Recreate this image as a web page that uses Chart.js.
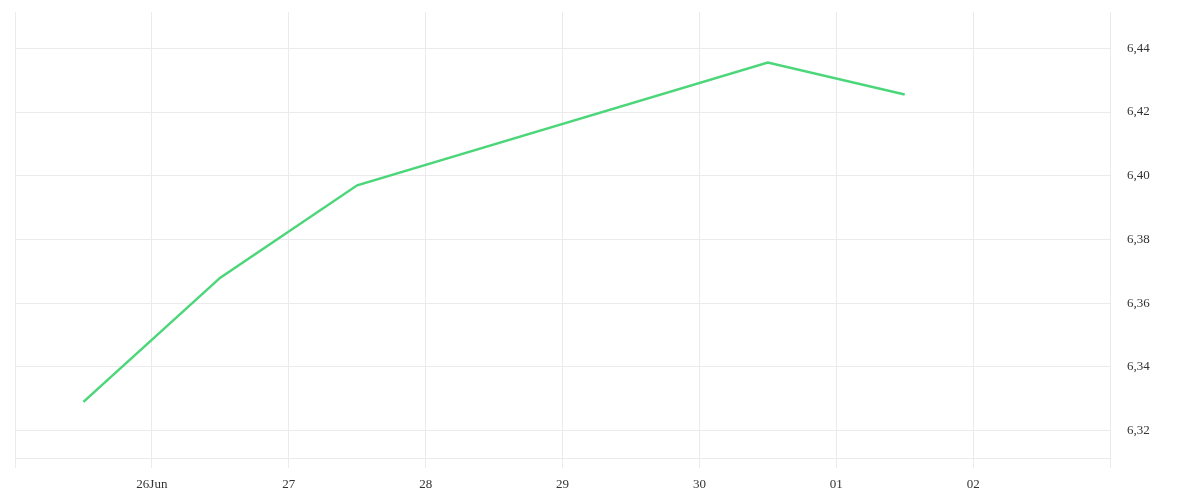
<!DOCTYPE html>
<html>
<head>
<meta charset="utf-8">
<script src="https://cdn.jsdelivr.net/npm/chart.js@4"></script>
<style>
  html, body { margin: 0; padding: 0; background: #fff; }
  #wrap { width: 1200px; height: 500px; }
</style>
</head>
<body>
<div id="wrap"><canvas id="rateChart"></canvas></div>
<script>
// dates of the points and their rates
const pointDates = ["2024-06-25T12:00", "2024-06-26T12:00", "2024-06-27T12:00", "2024-06-30T12:00", "2024-07-01T12:00"];
const rates = [6.329, 6.368, 6.397, 6.4355, 6.4255];
// x tick labels, one per day from 25 Jun to 03 Jul
const dayLabels = ["", "26Jun", "27", "28", "29", "30", "01", "02", ""];
const yTicks = [6.32, 6.34, 6.36, 6.38, 6.40, 6.42, 6.44];

const start = Date.UTC(2024, 5, 25);
const toDay = s => {
  const [d, t] = s.split("T");
  const [y, m, dd] = d.split("-").map(Number);
  const [hh, mm] = t.split(":").map(Number);
  return (Date.UTC(y, m - 1, dd, hh, mm) - start) / 86400000;
};

const gridColor = "#ebebeb";
const font = { family: "'Liberation Serif', 'DejaVu Serif', serif", size: 13 };

new Chart(document.getElementById("rateChart"), {
  type: "line",
  data: {
    datasets: [{
      data: pointDates.map((d, i) => ({ x: toDay(d), y: rates[i] })),
      borderColor: "#4cd67a",
      borderWidth: 2.5,
      pointRadius: 0,
      tension: 0,
      fill: false
    }]
  },
  options: {
    responsive: true,
    maintainAspectRatio: false,
    animation: false,
    layout: { padding: { left: 15, top: 12, right: 0, bottom: 0 } },
    plugins: { legend: { display: false }, tooltip: { enabled: false } },
    scales: {
      x: {
        type: "linear",
        min: 0,
        max: dayLabels.length - 1,
        grid: { color: gridColor, tickLength: 10 },
        border: { color: gridColor },
        afterBuildTicks: axis => { axis.ticks = dayLabels.map((_, i) => ({ value: i })); },
        afterFit: axis => { axis.height = 42; axis.paddingLeft = 0; axis.paddingRight = 0; },
        ticks: {
          autoSkip: false,
          maxRotation: 0,
          padding: 9,
          color: "#333",
          font: font,
          callback: v => dayLabels[v] ?? ""
        }
      },
      y: {
        position: "right",
        min: 6.3114,
        max: 6.4514,
        grid: { color: gridColor, drawTicks: false },
        border: { color: gridColor },
        afterBuildTicks: axis => { axis.ticks = yTicks.map(v => ({ value: v })); },
        afterFit: axis => { axis.width = 90; axis.paddingTop = 0; axis.paddingBottom = 0; },
        ticks: {
          padding: 17,
          color: "#333",
          font: font,
          callback: v => v.toFixed(2).replace(".", ",")
        }
      }
    }
  }
});
</script>
</body>
</html>
